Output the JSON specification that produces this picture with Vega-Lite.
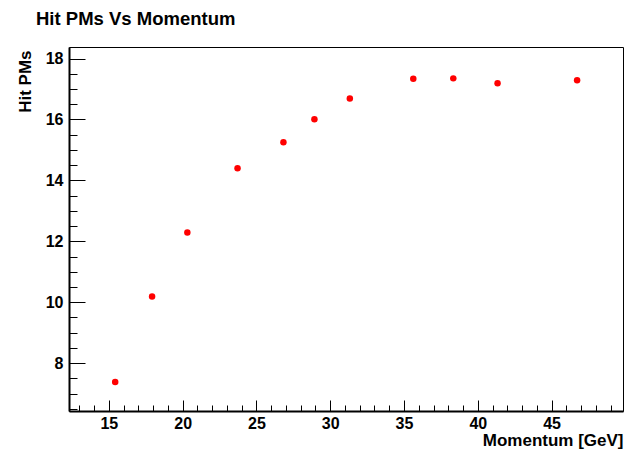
{
  "$schema": "https://vega.github.io/schema/vega-lite/v6.json",
  "autosize": {"type": "none"},
  "padding": {"left": 69, "top": 47, "right": 2, "bottom": 42},
  "width": 554,
  "height": 364,
  "background": "white",
  "config": {
    "font": "Liberation Sans",
    "view": {"stroke": "black", "strokeWidth": 1}
  },
  "title": {
    "text": "Hit PMs Vs Momentum",
    "anchor": "start",
    "frame": "group",
    "font": "Liberation Sans",
    "fontSize": 18.5,
    "fontWeight": "bold",
    "color": "black",
    "dx": -33,
    "offset": 19
  },
  "data": {
    "values": [
      {"p": 15.43, "hits": 7.38},
      {"p": 17.93, "hits": 10.19},
      {"p": 20.32, "hits": 12.29},
      {"p": 23.72, "hits": 14.40},
      {"p": 26.83, "hits": 15.25},
      {"p": 28.93, "hits": 16.01},
      {"p": 31.33, "hits": 16.69},
      {"p": 35.63, "hits": 17.34},
      {"p": 38.34, "hits": 17.35},
      {"p": 41.34, "hits": 17.19},
      {"p": 46.73, "hits": 17.29}
    ]
  },
  "mark": {"type": "circle", "color": "#ff0000", "opacity": 1, "size": 42},
  "encoding": {
    "x": {
      "field": "p",
      "type": "quantitative",
      "scale": {"domain": [12.3, 49.84], "nice": false, "zero": false},
      "axis": {
        "title": "Momentum [GeV]",
        "titleAnchor": "end",
        "titleFont": "Liberation Sans",
        "titleFontSize": 17,
        "titleFontWeight": "bold",
        "titleColor": "black",
        "titleBaseline": "alphabetic",
        "titleY": 34,
        "values": [13,14,15,16,17,18,19,20,21,22,23,24,25,26,27,28,29,30,31,32,33,34,35,36,37,38,39,40,41,42,43,44,45,46,47,48,49],
        "labelExpr": "datum.value % 5 === 0 ? datum.label : ''",
        "labelFont": "Liberation Sans",
        "labelFontSize": 16,
        "labelFontWeight": "bold",
        "labelColor": "black",
        "labelPadding": 15,
        "labelFlush": false,
        "labelOverlap": false,
        "grid": false,
        "domainColor": "black",
        "domainWidth": 2,
        "tickColor": "black",
        "tickWidth": 1,
        "tickSize": {"condition": {"test": "datum.value % 5 === 0", "value": -11}, "value": -6}
      }
    },
    "y": {
      "field": "hits",
      "type": "quantitative",
      "scale": {"domain": [6.43, 18.38], "nice": false, "zero": false},
      "axis": {
        "title": "Hit PMs",
        "titleAnchor": "end",
        "titleFont": "Liberation Sans",
        "titleFontSize": 17,
        "titleFontWeight": "bold",
        "titleColor": "black",
        "titleBaseline": "alphabetic",
        "titleX": -38.5,
        "titleY": 3,
        "values": [6.5,7,7.5,8,8.5,9,9.5,10,10.5,11,11.5,12,12.5,13,13.5,14,14.5,15,15.5,16,16.5,17,17.5,18],
        "labelExpr": "datum.value % 2 === 0 ? format(datum.value, 'd') : ''",
        "labelFont": "Liberation Sans",
        "labelFontSize": 16,
        "labelFontWeight": "bold",
        "labelColor": "black",
        "labelPadding": 22,
        "labelFlush": false,
        "labelOverlap": false,
        "grid": false,
        "domainColor": "black",
        "domainWidth": 2,
        "tickColor": "black",
        "tickWidth": 1,
        "tickSize": {"condition": {"test": "datum.value % 2 === 0", "value": -16}, "value": -8}
      }
    }
  }
}
